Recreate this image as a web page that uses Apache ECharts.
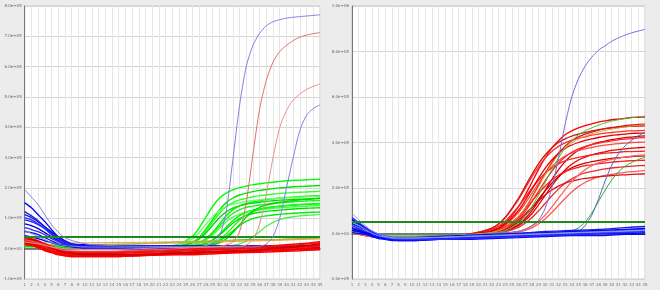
<!DOCTYPE html>
<html><head><meta charset="utf-8">
<script src="https://cdn.jsdelivr.net/npm/echarts@6/dist/echarts.min.js"></script>
<style>html,body{margin:0;padding:0;background:#ececec;}#c{width:660px;height:290px;}</style>
</head><body><div id="c"></div>
<script>
// ---- cycles (x values) ----
const baseCycles = [1,2,3,4,5,6,7,8,10,14,18,22,26,30,34,38,42,45];
const riseCycles = [1,3,5,7,10,14,18,22,24,26,27,28,29,30,31,32,33,34,35,36,37,38,39,40,41,42,43,44,45];
// ---- tick labels ----
const leftYLabels = ['-1.0e+05','0.0e+00','1.0e+05','2.0e+05','3.0e+05','4.0e+05','5.0e+05','6.0e+05','7.0e+05','8.0e+05'];
const rightYLabels = ['-2.0e+05','0.0e+00','2.0e+05','4.0e+05','6.0e+05','8.0e+05','1.0e+06'];
// values are in thousands of fluorescence units
const leftThreshold = 40;
const rightThreshold = 53;

// ---- LEFT PANEL (baseCycles) ----
const leftBlue = [
 [151,135,112,89,63,39,26,16,13,10,10,10,10,10,10,10,10,7],
 [112,102,89,72,56,39,26,16,10,7,7,7,7,7,7,7,3,3],
 [95,89,79,66,49,33,23,13,7,7,7,7,7,7,3,3,3,3],
 [82,76,66,53,39,26,16,10,7,3,3,3,3,3,3,3,0,0],
 [69,63,56,46,33,23,13,7,3,3,3,3,3,3,3,0,0,0],
 [56,53,46,36,26,16,10,7,3,3,3,7,7,7,7,7,7,7],
 [122,108,92,72,53,36,23,13,7,7,7,10,10,10,10,10,10,10],
 [43,39,33,26,20,13,10,7,3,0,0,0,0,0,0,3,3,3],
 [102,95,82,66,46,30,20,10,3,0,-3,-3,-3,-3,-3,-3,-3,-3]
];
const leftRed = [
 [36,33,26,16,7,0,-7,-10,-10,-10,-7,-3,0,3,7,10,16,23],
 [30,26,20,10,0,-7,-13,-16,-16,-16,-13,-10,-7,-3,0,3,7,13],
 [23,20,13,3,-7,-13,-16,-20,-20,-20,-16,-13,-10,-7,-3,0,3,7],
 [16,13,7,-3,-10,-16,-20,-23,-23,-23,-20,-16,-13,-10,-7,-3,0,3],
 [26,23,16,7,-3,-10,-16,-20,-23,-23,-20,-16,-13,-10,-7,-3,3,10],
 [20,16,10,0,-10,-16,-23,-26,-26,-26,-23,-20,-16,-13,-10,-7,-3,0],
 [33,30,23,13,3,-3,-10,-13,-13,-13,-10,-7,-3,0,3,7,13,20],
 [13,10,3,-7,-13,-20,-23,-26,-26,-26,-23,-20,-20,-16,-13,-10,-7,-3],
 [30,30,23,13,3,-7,-13,-16,-20,-20,-20,-16,-13,-10,-7,0,7,16]
];
const leftFlat = [
 [20,16,13,10,10,10,10,10,10,13,16,20,23,26,30,30,33,36],
 [26,24,22,20,19,19,19,19,19,20,21,22,24,26,28,30,33,35],
 [16,15,14,14,14,14,14,14,14,15,16,18,20,22,25,27,30,32]
];
// ---- LEFT PANEL (riseCycles) ----
const leftGreen = [
 [20,13,10,8,8,8,8,8,15,41,69,104,139,166,183,194,201,206,211,214,217,219,222,224,225,226,227,228,229],
 [15,11,9,7,7,7,7,8,10,22,38,64,96,127,151,167,177,183,188,192,195,198,200,202,204,205,206,207,208],
 [25,16,11,9,8,8,9,9,10,21,35,58,87,116,138,152,161,166,171,175,177,180,182,184,185,186,187,188,189],
 [10,8,6,5,5,6,6,7,8,13,20,33,54,81,108,128,141,149,154,158,162,164,167,168,170,172,173,174,175],
 [18,12,9,8,8,8,8,9,10,19,32,52,77,102,121,134,141,146,150,153,156,158,160,161,163,163,164,165,166],
 [22,14,10,8,7,7,7,8,8,13,19,31,50,74,98,116,128,136,140,144,147,149,151,153,154,156,157,158,159],
 [12,10,8,7,6,6,7,7,8,9,12,18,29,47,70,92,109,120,127,131,135,138,140,142,143,145,146,147,148],
 [16,12,9,7,7,7,7,8,8,12,17,28,45,67,88,104,114,121,125,128,131,133,135,136,138,139,140,141,142],
 [8,7,6,5,5,5,6,7,8,9,12,17,27,44,64,84,99,110,116,120,123,125,127,129,131,132,133,134,135],
 [20,13,10,8,8,8,8,8,8,8,9,12,18,29,48,71,94,111,122,130,134,137,140,142,145,146,147,148,149],
 [14,11,9,8,8,8,8,8,8,8,9,11,16,25,40,58,76,90,99,105,108,111,113,115,117,118,119,120,121],
 [10,9,8,7,7,7,7,8,8,8,8,8,8,8,9,11,16,25,39,56,74,87,96,102,105,108,110,111,113],
 [24,15,11,9,9,9,9,9,13,32,54,80,106,125,138,147,151,156,159,161,164,165,167,169,169,170,171,172,173],
 [6,6,5,5,5,6,6,7,7,8,8,10,13,19,32,53,78,104,123,136,144,149,153,156,158,161,162,164,166]
];
const leftBlueLate = [
 [194,145,79,36,16,10,8,7,6,6,7,10,18,40,120,290,470,600,670,710,735,748,755,760,763,765,767,769,771],
 [60,40,20,10,6,5,5,5,5,5,5,5,5,5,5,5,6,6,6,8,15,40,100,200,300,390,440,462,474]
];
const leftRedLate = [
 [30,20,5,-5,-8,-8,-5,-2,0,3,4,5,6,8,12,22,55,150,310,460,555,615,650,670,686,697,704,709,712],
 [22,16,6,0,-3,-3,0,3,4,5,5,6,6,7,7,8,8,12,30,80,180,300,400,455,490,510,525,535,543]
];

// ---- RIGHT PANEL (baseCycles) ----
const rightBlue = [
 [62,44,26,9,-4,-13,-18,-18,-18,-13,-9,-4,0,4,9,13,18,22],
 [44,31,18,4,-9,-18,-22,-22,-22,-18,-13,-9,-4,0,4,9,13,18],
 [26,18,4,-4,-13,-22,-26,-26,-26,-22,-18,-13,-9,-4,0,4,9,13],
 [13,9,0,-9,-18,-22,-26,-31,-31,-26,-22,-18,-13,-9,-4,0,0,4],
 [35,22,9,-4,-13,-18,-22,-22,-22,-18,-13,-9,-4,0,4,9,13,13],
 [4,0,-4,-13,-22,-26,-31,-31,-31,-26,-26,-22,-18,-13,-9,-9,-4,-4],
 [53,40,22,4,-9,-18,-22,-26,-26,-22,-18,-9,0,9,13,18,26,31],
 [22,13,4,-4,-13,-18,-22,-22,-22,-18,-13,-9,-4,0,4,9,13,18],
 [70,48,26,4,-9,-18,-22,-26,-26,-26,-22,-18,-13,-9,-4,0,4,9]
];
const rightLight = [
 [50,35,18,0,-10,-15,-20,-20,-20,-16,-12,-8,-4,0,4,8,12,16],
 [90,60,35,12,-2,-12,-18,-20,-20,-18,-14,-10,-6,-2,2,6,10,14]
];
const rightFlat = [
 [5,4,2,0,-4,-8,-10,-10,-10,-9,-8,-6,-4,-2,0,2,4,6]
];
// ---- RIGHT PANEL (riseCycles) ----
const rightRed = [
 [10,-5,-15,-20,-20,-15,-8,13,46,117,168,224,281,332,375,408,434,451,464,474,482,490,495,500,503,506,510,511,512],
 [8,-6,-14,-18,-18,-14,-8,5,24,72,110,158,211,264,312,353,384,408,425,437,446,454,461,466,470,474,477,480,481],
 [12,-4,-12,-18,-19,-15,-6,23,68,149,198,248,293,331,360,383,398,410,419,425,432,437,441,444,447,450,451,452,453],
 [6,-8,-16,-20,-20,-16,-9,2,11,39,65,99,142,189,237,280,316,344,366,381,391,400,406,413,417,421,424,427,429],
 [9,-5,-14,-19,-19,-14,-7,10,36,92,132,176,220,260,294,320,340,354,364,372,378,384,388,392,395,397,400,401,402],
 [4,-9,-17,-21,-21,-16,-9,2,10,34,57,87,125,167,209,247,279,304,323,336,346,353,359,365,369,372,375,377,379],
 [11,-4,-13,-18,-18,-13,-6,18,54,119,158,198,234,265,288,306,319,328,335,340,346,349,353,355,357,360,360,361,362],
 [7,-7,-15,-20,-20,-15,-8,3,17,51,78,112,150,187,221,250,272,289,301,309,316,321,326,330,333,336,338,340,341],
 [10,-5,-14,-18,-18,-14,-7,8,29,74,106,141,176,208,235,256,272,283,291,298,302,307,310,314,316,318,320,321,322],
 [5,-8,-16,-20,-20,-16,-9,1,8,27,45,69,99,132,165,195,221,240,255,266,273,279,284,288,291,294,296,298,299],
 [3,-9,-17,-21,-21,-17,-10,0,1,7,14,25,42,64,92,123,154,182,206,224,238,248,255,260,265,269,272,274,276],
 [12,-3,-12,-17,-17,-13,-6,7,23,60,86,114,143,169,191,208,221,230,237,242,246,250,252,255,257,258,260,261,262],
 [8,-6,-15,-19,-19,-15,-8,4,21,63,97,139,185,231,273,309,336,357,372,382,391,397,403,407,412,415,417,420,421],
 [10,-5,-14,-18,-18,-14,-7,11,40,101,145,194,242,286,323,352,374,389,400,409,416,422,427,431,434,437,440,441,442],
 [12,-3,-12,-17,-17,-13,-5,24,71,155,207,259,306,345,376,400,416,428,437,444,451,456,461,464,467,470,471,472,473],
 [4,-9,-17,-21,-21,-17,-10,0,1,9,18,32,53,81,116,154,193,228,257,280,298,310,319,326,331,336,340,343,345]
];
const rightBlueLate = [
 [40,15,-5,-15,-18,-15,-8,0,3,10,18,35,58,110,200,330,480,600,680,735,775,805,825,845,860,872,882,890,897],
 [20,5,-10,-18,-20,-15,-10,-5,-2,0,0,2,3,3,4,4,5,6,10,35,80,150,230,300,350,385,410,430,444]
];
const rightGreenRise = [
 [15,0,-10,-15,-15,-12,-6,2,12,46,77,117,168,224,281,332,375,408,434,451,464,476,486,494,500,505,509,513,516],
 [5,-2,-10,-15,-15,-10,-5,-2,0,1,2,2,3,3,4,4,5,12,25,50,90,140,190,235,270,295,312,325,335]
];
const rightOrangeRise = [
 [8,-3,-12,-16,-16,-12,-6,5,25,75,110,155,205,258,305,345,375,398,415,428,438,446,453,459,464,468,472,475,478]
];

// ---- build ----
const series = [];
function add(grid, xs, ys, color, z, width, opacity) {
  series.push({
    type: 'line', xAxisIndex: grid, yAxisIndex: grid,
    data: xs.map((c, i) => [c, ys[i]]),
    symbol: 'none', smooth: 0.25, silent: true, animation: false, z: z,
    lineStyle: { color: color, width: width || 1, opacity: opacity == null ? 1 : opacity }
  });
}
const blues = ['#0000ff','#1414e6','#2424ff','#0000cc','#3030f0','#0a0aff','#1a1ad8','#0000ee','#2a2aff'];
const reds = ['#ff0000','#e00000','#ff2020','#d40000','#ff1010','#f00000','#e81818','#ff0000','#cc0000'];
const greens = ['#00ff00','#00e600','#33ff33','#10f010','#00dd00','#22ee22','#00f500','#44ff44','#00e000','#18f818','#00ec00','#55ee55','#66ff66','#00d800'];
const redsR = ['#ff0000','#e61414','#ff3030','#d00000','#ff4a4a','#ee0000','#f02828','#c80000','#ff1a1a','#e03030','#ff5a5a','#d81010','#ff2a2a','#e80000','#cc1a1a','#ff6464'];

// left
leftGreen.forEach((ys, i) => add(0, riseCycles, ys, greens[i % greens.length], 2, 1.4));
leftFlat.forEach((ys, i) => add(0, baseCycles, ys, ['#2ec82e','#c8b040','#e0a030'][i], 2, 1));
leftBlue.forEach((ys, i) => add(0, baseCycles, ys, blues[i], 3, 1.3));
leftRed.forEach((ys, i) => add(0, baseCycles, ys, reds[i], 4, 1.5));
leftBlueLate.forEach((ys, i) => add(0, riseCycles, ys, '#8080e0', 5, 1));
leftRedLate.forEach((ys, i) => add(0, riseCycles, ys, ['#e07070','#e89090'][i], 5, 1));
// right
rightRed.forEach((ys, i) => add(1, riseCycles, ys, redsR[i], 2, 1.3));
rightGreenRise.forEach((ys, i) => add(1, riseCycles, ys, ['#40c040','#30a830'][i], 3, 1));
rightOrangeRise.forEach((ys, i) => add(1, riseCycles, ys, '#d8a030', 3, 1));
rightBlueLate.forEach((ys, i) => add(1, riseCycles, ys, ['#7070e0','#4a70c0'][i], 3, 1));
rightFlat.forEach((ys, i) => add(1, baseCycles, ys, '#40c040', 4, 1));
rightBlue.forEach((ys, i) => add(1, baseCycles, ys, blues[i], 4, 1.4));
rightLight.forEach((ys, i) => add(1, baseCycles, ys, ['#60a8ff','#9a9ae8'][i], 4, 1));

// thresholds
[[0, leftThreshold], [1, rightThreshold]].forEach(([g, t]) => {
  series.push({
    type: 'line', xAxisIndex: g, yAxisIndex: g, data: [], silent: true, animation: false, z: 8,
    markLine: { silent: true, symbol: 'none', animation: false, label: { show: false },
      lineStyle: { color: '#1f8a1f', width: 2, type: 'solid' }, data: [{ yAxis: t }] }
  });
});

function xAxis(g) {
  return {
    gridIndex: g, type: 'value', min: 1, max: 45, interval: 1,
    axisLine: { show: true, lineStyle: { color: '#555', width: 1.5 } },
    axisTick: { show: false },
    axisLabel: { fontSize: 4, color: '#777', margin: 4, fontFamily: 'DejaVu Sans' },
    splitLine: { show: true, lineStyle: { color: '#e6e6e6', width: 1 } }
  };
}
function yAxis(g, min, max, interval, labels) {
  return {
    gridIndex: g, type: 'value', min: min, max: max, interval: interval,
    axisLine: { show: true, lineStyle: { color: '#777', width: 1 } },
    axisTick: { show: false },
    axisLabel: { fontSize: 4, color: '#666', margin: 3, fontFamily: 'DejaVu Sans',
      formatter: v => labels[Math.round((v - min) / interval)] },
    splitLine: { show: true, lineStyle: { color: '#d4d4d4', width: 1 } }
  };
}

const chart = echarts.init(document.getElementById('c'), null, { renderer: 'canvas' });
chart.setOption({
  backgroundColor: '#ececec',
  animation: false,
  grid: [
    { left: 17, top: 6, width: 303, height: 273, show: true, backgroundColor: '#ffffff', borderColor: '#c8c8c8', borderWidth: 1 },
    { left: 352, top: 6, width: 293, height: 273, show: true, backgroundColor: '#ffffff', borderColor: '#c8c8c8', borderWidth: 1 }
  ],
  xAxis: [xAxis(0), xAxis(1)],
  yAxis: [yAxis(0, -100, 800, 100, leftYLabels), yAxis(1, -200, 1000, 200, rightYLabels)],
  series: series
});
</script>
</body></html>
